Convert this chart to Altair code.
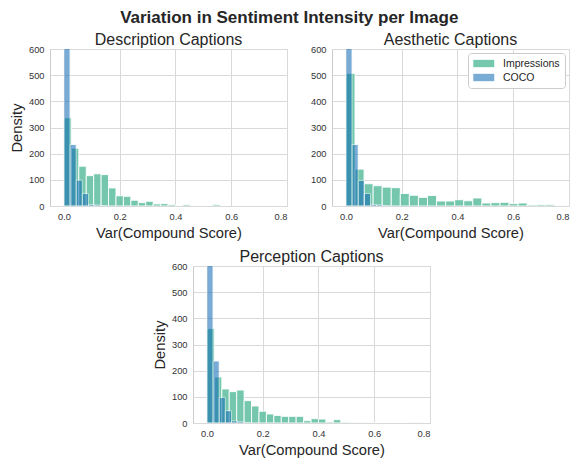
import altair as alt
import pandas as pd

# ---------------- data ----------------
SERIES = ["Impressions", "COCO"]
COLORS = ["#66c2a5", "#0b68b3"]
OPACITIES = [0.9, 0.55]

IMP_BIN = 0.8 / 30        # bin width of Impressions histograms (Description / Perception)
AES_BIN = 0.0325          # bin width of Impressions histogram (Aesthetic)
COCO_BIN = 0.022          # bin width of COCO histograms

desc_imp = [337, 221, 152, 116, 123, 120, 69, 39, 37, 22, 13, 18, 8, 9, 5, 1, 5, 0, 0, 0, 5]
desc_coco = [1100, 235, 99, 48, 6, 4, 1]

aes_imp = [507, 141, 85, 77.5, 72, 70, 48, 41, 33, 40, 19, 19, 24, 20, 30.5, 11.4,
           12.7, 14, 9, 11.4, 4, 5, 5, 1]
aes_coco = [1100, 235, 98, 48, 6, 5, 1]

perc_imp = [361, 176, 130, 120, 126, 85.5, 65, 45, 34.5, 29, 25.5, 25.5, 25.5, 9, 16.6,
            15, 4, 12.8, 3, 1, 1, 1, 1, 0, 0, 0, 0, 1, 1]
perc_coco = [1100, 237, 98, 47, 8, 5, 1]

X_TICKS = [0.0, 0.2, 0.4, 0.6, 0.8]
Y_TICKS = [0, 100, 200, 300, 400, 500, 600]

FONT = "Liberation Sans"
PW, PH = 237, 157


def frame(imp, imp_bin, coco, coco_bin):
    rows = []
    for name, vals, w in (("Impressions", imp, imp_bin), ("COCO", coco, coco_bin)):
        for i, v in enumerate(vals):
            if v > 0:
                rows.append({"series": name, "x0": i * w, "x1": (i + 1) * w, "y": v})
    return pd.DataFrame(rows)


def panel(title, df, ylabel, legend):
    color = alt.Color(
        "series:N",
        scale=alt.Scale(domain=SERIES, range=COLORS),
        legend=legend,
    )
    opacity = alt.Opacity(
        "series:N",
        scale=alt.Scale(domain=SERIES, range=OPACITIES),
        legend=legend,
    )
    x = alt.X(
        "x0:Q",
        scale=alt.Scale(domain=[-0.05, 0.8], nice=False, zero=False),
        axis=alt.Axis(values=X_TICKS, format=".1f", title="Var(Compound Score)"),
    )
    y = alt.Y(
        "y:Q",
        scale=alt.Scale(domain=[0, 600], nice=False),
        axis=alt.Axis(values=Y_TICKS, title=ylabel),
    )
    base = alt.Chart(df).mark_rect(
        stroke="white", strokeWidth=0.9, clip=True
    ).encode(x=x, x2="x1:Q", y=y, y2=alt.datum(0), color=color, opacity=opacity)
    imp_layer = base.transform_filter(alt.datum.series == "Impressions")
    coco_layer = base.transform_filter(alt.datum.series == "COCO")
    return alt.layer(imp_layer, coco_layer).properties(
        width=PW,
        height=PH,
        title=alt.TitleParams(
            title, fontSize=16, fontWeight="normal", font=FONT, color="#262626",
            anchor="middle", offset=-3,
        ),
    )


legend = alt.Legend(
    orient="top-right",
    title=None,
    fillColor="white",
    strokeColor="#cccccc",
    cornerRadius=3,
    padding=5,
    offset=4,
    symbolType="M-1,-0.7L3,-0.7L3,0.7L-1,0.7Z",
    symbolSize=110,
    symbolStrokeWidth=0,
    labelOffset=19,
    labelFont=FONT,
    labelFontSize=10.5,
    labelColor="#262626",
    rowPadding=3,
)

desc = panel("Description Captions", frame(desc_imp, IMP_BIN, desc_coco, COCO_BIN), "Density", None)
aes = panel("Aesthetic Captions", frame(aes_imp, AES_BIN, aes_coco, COCO_BIN), None, legend)
perc = panel("Perception Captions", frame(perc_imp, IMP_BIN, perc_coco, COCO_BIN), "Density", None)

spacer = alt.Chart(pd.DataFrame({"a": [0]})).mark_point(opacity=0).encode(
    x=alt.X("a:Q", axis=None), y=alt.Y("a:Q", axis=None)
).properties(width=100, height=10, view=alt.ViewBackground(stroke="transparent"))

top = alt.hconcat(desc, aes, spacing=21).resolve_legend(
    color="independent", opacity="independent"
).resolve_scale(color="independent", opacity="independent")
bottom = alt.hconcat(spacer, perc, spacing=0).resolve_legend(
    color="independent", opacity="independent"
).resolve_scale(color="independent", opacity="independent")

chart = alt.vconcat(top, bottom, spacing=7).resolve_legend(
    color="independent", opacity="independent"
).resolve_scale(
    color="independent", opacity="independent"
).properties(
    title=alt.TitleParams(
        "Variation in Sentiment Intensity per Image",
        fontSize=17, fontWeight="bold", font=FONT, color="#262626", anchor="middle", offset=5,
    ),
    padding={"left": 0, "top": 0, "right": 0, "bottom": 0},
).configure_view(
    stroke="#cccccc", strokeWidth=1
).configure_axis(
    grid=True, gridColor="#d9d9d9", gridWidth=1, domain=False, ticks=False,
    labelFont=FONT, labelFontSize=9.3, labelColor="#333333", labelPadding=6,
    titleFont=FONT, titleFontSize=14.7, titleFontWeight="normal", titleColor="#262626",
    titlePadding=4,
)

chart.save("out.html", embed_options={"renderer": "svg", "actions": False})
